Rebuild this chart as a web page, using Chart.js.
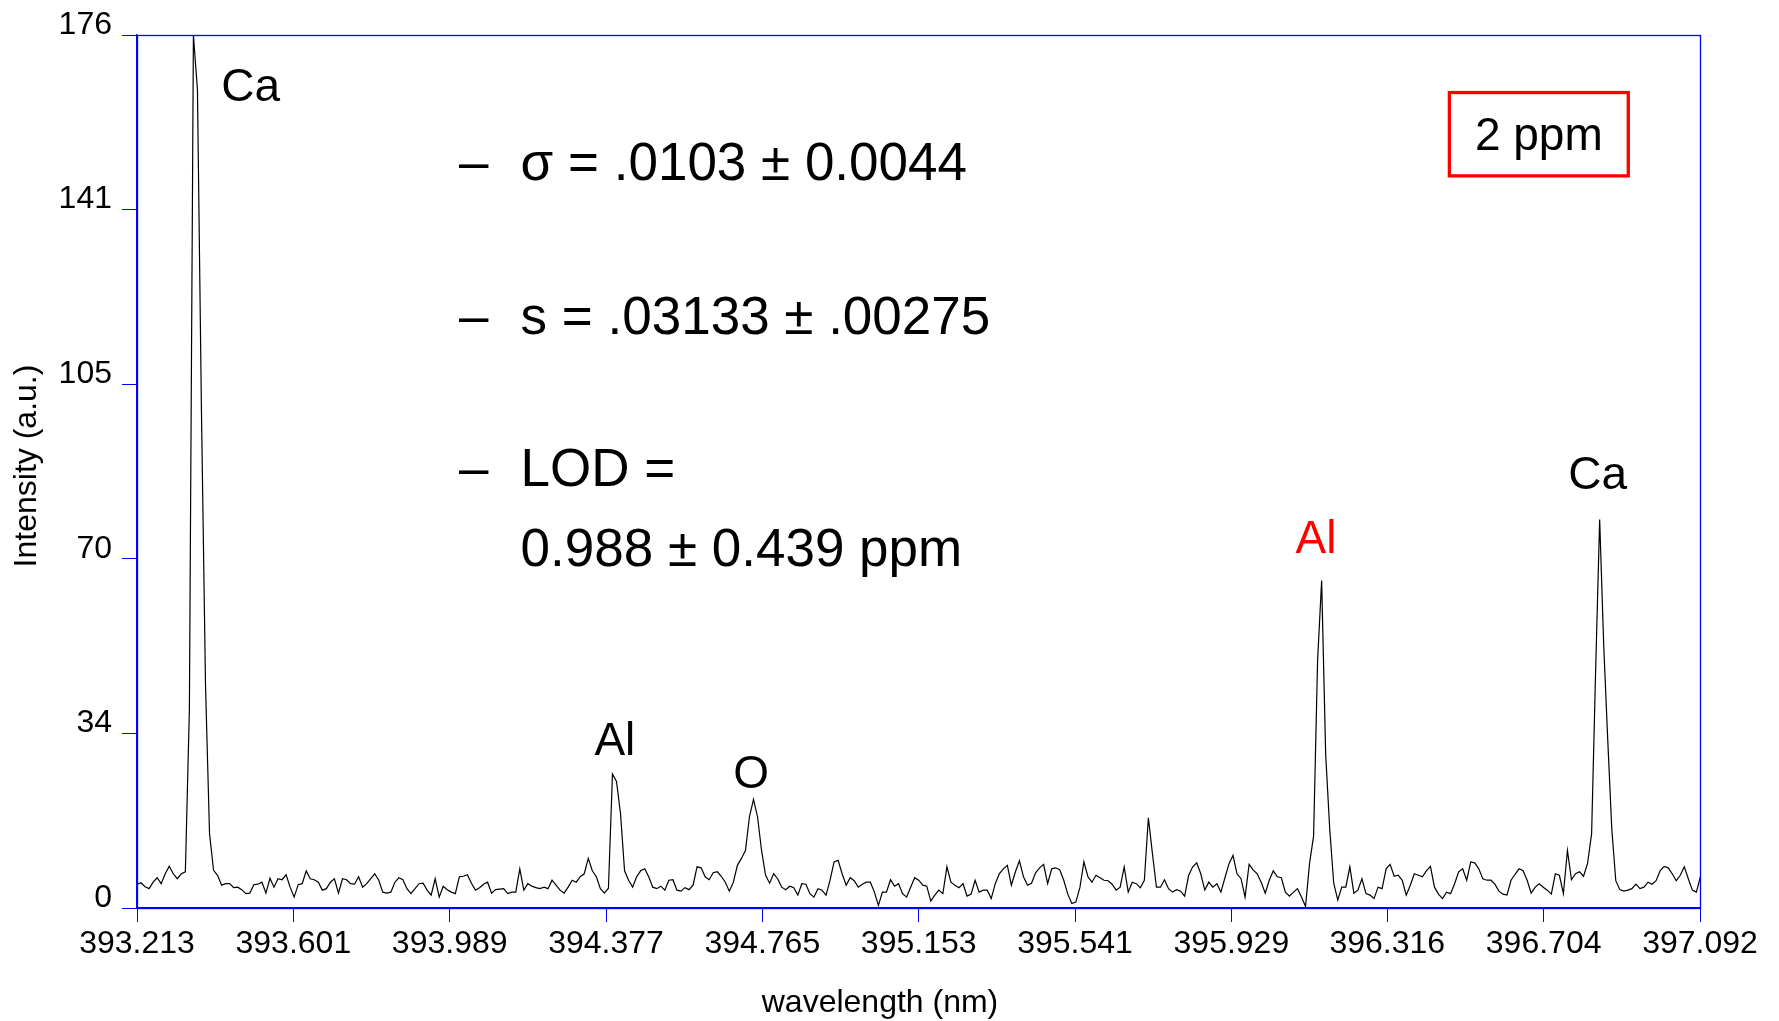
<!DOCTYPE html>
<html>
<head>
<meta charset="utf-8">
<title>Spectrum 2 ppm</title>
<script src="https://cdn.jsdelivr.net/npm/chart.js@4.4.0/dist/chart.umd.min.js"></script>
<style>
  html, body { margin: 0; padding: 0; background: #fff; }
</style>
</head>
<body>
<canvas id="myChart" width="1779" height="1021"></canvas>
<script>
// sampling grid of the spectrum (nm)
const wlStart = 393.213
const wlStep = 0.01

// intensity (a.u.), one value per grid step
const intensity = [
  4.8, 5.1, 4.3, 3.9, 5.2, 6.1, 4.9, 6.9, 8.4, 6.9, 5.9, 6.9, 7.3,
  40, 176, 165, 100, 45, 15,
  7.6, 6.6, 4.6, 4.9, 4.9, 4.1, 4.2, 3.7, 2.9, 3.0, 4.7, 4.8, 5.2, 3.0, 6.0, 4.2, 5.9, 5.7, 6.7, 4.2,
  2.2, 4.7, 4.9, 7.5, 5.9, 5.7, 5.2, 3.6, 3.9, 5.2, 5.9, 3.0, 5.9, 5.7, 4.9, 4.8, 6.3, 4.2, 4.9, 5.9,
  6.9, 5.6, 3.2, 3.0, 3.2, 5.2,
  6.1, 5.7, 3.9, 2.9, 3.9, 4.9, 5.0, 3.6, 2.6, 5.9, 2.2, 4.4, 3.7, 3.2, 2.9, 6.3, 6.4, 6.7, 5.0, 3.6,
  4.1, 4.8, 5.2, 3.0, 3.7, 3.8, 3.9, 2.9, 3.2, 3.2, 7.9, 3.6, 4.9, 4.4, 4.1, 3.9, 4.2, 3.9, 5.6, 4.6,
  3.6, 3.0, 4.2, 5.6, 5.2, 6.3, 6.9, 10.0, 7.5, 6.3, 3.9, 3.0, 4.0, 27, 25.5, 19, 7.5, 5.6, 4.2, 6.3,
  7.5, 7.9, 6.3, 4.2, 3.9,
  4.4, 3.6, 5.6, 5.7, 3.6, 3.4, 4.1, 3.7, 4.6, 8.3, 8.1, 6.3, 5.7, 7.1, 7.3, 6.4, 5.2, 3.4, 5.2, 8.6,
  10.0, 11.6, 18.4, 21.9, 18.4, 11.6, 6.6, 5.0, 6.9, 5.9, 4.2, 3.7, 4.4, 4.1, 2.6, 4.9, 4.8, 2.9, 2.2, 3.9,
  3.6, 2.6, 5.6, 9.3, 9.6, 6.9, 4.6, 6.1, 5.5, 4.2, 4.8, 5.2, 5.2, 3.2, 0.5, 3.2, 3.2, 5.7, 4.4, 4.9,
  2.9, 2.2, 4.2, 6.1,
  5.6, 4.6, 4.4, 1.4, 2.6, 3.6, 2.9, 8.3, 5.2, 4.6, 4.1, 4.9, 2.4, 2.8, 5.6, 3.2, 3.6, 3.6, 1.9, 4.9,
  6.9, 7.9, 8.6, 4.6, 7.3, 9.5, 6.3, 4.6, 5.0, 7.1, 8.1, 8.8, 4.9, 7.9, 8.1, 7.7, 5.6, 2.8, 0.9, 1.2,
  4.1, 9.3, 6.3, 5.2, 6.6, 6.1, 5.6, 5.5, 4.8, 3.6, 4.2, 8.3, 3.2, 5.2, 4.9, 4.1, 5.6, 18.2, 11.0, 4.2,
  4.2, 5.7, 3.9, 3.2, 3.7,
  3.4, 2.4, 6.6, 8.3, 9.1, 6.9, 3.6, 5.2, 4.2, 4.9, 3.2, 6.1, 8.9, 10.6, 6.9, 5.9, 2.2, 8.8, 7.7, 6.9,
  5.2, 3.0, 5.6, 7.5, 6.3, 6.1, 3.2, 2.4, 3.2, 3.9, 2.2,
  0.3, 9, 14.5, 50, 66, 31, 16, 5, 1.6,
  4.2, 4.2, 8.3, 3.0, 3.6, 5.9, 2.9, 2.6, 1.9, 4.2, 3.9, 7.9, 8.8, 6.4, 6.6, 5.6, 2.6, 4.6, 6.9, 6.6,
  6.3, 7.5, 8.4, 4.2, 2.8,
  1.9, 3.2, 2.9, 4.9, 7.3, 7.9, 5.6, 9.3, 9.1, 7.9, 5.9, 5.6, 5.6, 4.8, 3.4, 2.8, 2.6, 5.6, 6.8, 7.9,
  7.5, 5.6, 3.0, 4.2, 4.9, 4.2, 3.6, 2.8, 6.9, 6.6, 2.9, 11.6, 5.7, 6.9, 7.3,
  6.4, 9, 15, 48, 78.3, 53, 34, 16, 5.5, 3.7,
  3.4, 3.6, 3.9, 4.8, 3.9, 4.2, 5.2, 4.8, 5.5, 7.5, 8.4, 8.1, 6.9, 5.5, 6.6, 8.3, 5.9, 3.6, 3.2, 6.3
]

const xTickLabels = ['393.213', '393.601', '393.989', '394.377', '394.765', '395.153',
  '395.541', '395.929', '396.316', '396.704', '397.092']
const yTickValues = [0, 35.2, 70.4, 105.6, 140.8, 176]
const yTickLabels = ['0', '34', '70', '105', '141', '176']

const xTitle = 'wavelength (nm)'
const yTitle = 'Intensity (a.u.)'
const peakNames = ['Ca', 'Al', 'O', 'Al', 'Ca']
const peakColors = ['#000', '#000', '#000', '#ff0000', '#000']
const statLines = ['σ = .0103 ± 0.0044', 's = .03133 ± .00275', 'LOD =', '0.988 ± 0.439 ppm']
const statDashes = [true, true, true, false]
const boxText = '2 ppm'

const points = intensity.map((v, i) => ({ x: wlStart + i * wlStep, y: v }))

const font = '"Liberation Sans", Arial, sans-serif'
const blue = '#0000ff'

// where the labels sit (wavelength, intensity at the text baseline)
const peakSpots = [[393.495, 162.6], [394.399, 30.8], [394.737, 24.1], [396.139, 71.5], [396.838, 84.4]]
const statSpots = [146.7, 115.7, 85.0, 69.0]

const frame = {
  id: 'frame',
  afterDraw(chart) {
    const { ctx, chartArea: a } = chart
    ctx.save()
    ctx.strokeStyle = blue
    ctx.lineWidth = 1.3
    ctx.strokeRect(Math.round(a.left) + 0.5, Math.round(a.top) + 0.5,
      Math.round(a.right - a.left), Math.round(a.bottom - a.top))
    ctx.restore()
  }
}

const notes = {
  id: 'notes',
  afterDraw(chart) {
    const { ctx } = chart
    const x = chart.scales.x
    const y = chart.scales.y
    ctx.save()

    // axis titles, placed like the original (x title sits left of the plot centre)
    ctx.fillStyle = '#000'
    ctx.font = '32px ' + font
    ctx.textAlign = 'center'
    ctx.textBaseline = 'middle'
    ctx.fillText(xTitle, 880, 1003)
    ctx.save()
    ctx.translate(27, 466)
    ctx.rotate(-Math.PI / 2)
    ctx.fillText(yTitle, 0, 0)
    ctx.restore()

    ctx.textBaseline = 'alphabetic'
    ctx.font = '46px ' + font
    peakNames.forEach((t, i) => {
      ctx.fillStyle = peakColors[i]
      ctx.fillText(t, x.getPixelForValue(peakSpots[i][0]), y.getPixelForValue(peakSpots[i][1]))
    })

    ctx.font = '53px ' + font
    ctx.textAlign = 'left'
    ctx.fillStyle = '#000'
    statLines.forEach((t, i) => {
      const py = y.getPixelForValue(statSpots[i])
      if (statDashes[i]) ctx.fillText('–', x.getPixelForValue(394.012), py)
      ctx.fillText(t, x.getPixelForValue(394.165), py)
    })

    // red box top right
    const bl = x.getPixelForValue(396.47), br = x.getPixelForValue(396.914)
    const bt = y.getPixelForValue(164.4), bb = y.getPixelForValue(147.6)
    ctx.strokeStyle = '#ff0000'
    ctx.lineWidth = 3.3
    ctx.strokeRect(bl, bt, br - bl, bb - bt)
    ctx.font = '46px ' + font
    ctx.textAlign = 'center'
    ctx.fillText(boxText, (bl + br) / 2, y.getPixelForValue(152.8))
    ctx.restore()
  }
}

const config = {
  type: 'line',
  data: {
    datasets: [{
      data: points,
      borderColor: '#000',
      borderWidth: 1.2,
      pointRadius: 0,
      tension: 0,
      fill: false
    }]
  },
  options: {
    responsive: false,
    animation: false,
    layout: { padding: { top: 35, right: 79, left: 0, bottom: 0 } },
    plugins: { legend: { display: false }, tooltip: { enabled: false } },
    scales: {
      x: {
        type: 'linear',
        min: 393.213,
        max: 397.092,
        afterBuildTicks: s => { s.ticks = xTickLabels.map(t => ({ value: parseFloat(t) })) },
        afterFit: s => { s.height = 113 },
        ticks: {
          callback: (v, i) => xTickLabels[i],
          font: { size: 32, family: font },
          color: '#000',
          padding: 3,
          maxRotation: 0,
          autoSkip: false
        },
        grid: { drawOnChartArea: false, color: blue, tickLength: 14 },
        border: { color: blue, width: 1.3 }
      },
      y: {
        min: 0,
        max: 176,
        afterBuildTicks: s => { s.ticks = yTickValues.map(v => ({ value: v })) },
        afterFit: s => { s.width = 137 },
        ticks: {
          callback: (v, i) => yTickLabels[i],
          font: { size: 32, family: font },
          color: '#000',
          padding: 10,
          labelOffset: -10
        },
        grid: { drawOnChartArea: false, color: blue, tickLength: 15 },
        border: { color: blue, width: 1.3 }
      }
    }
  },
  plugins: [frame, notes]
}

const myChart = new Chart(document.getElementById('myChart'), config)
</script>
</body>
</html>
